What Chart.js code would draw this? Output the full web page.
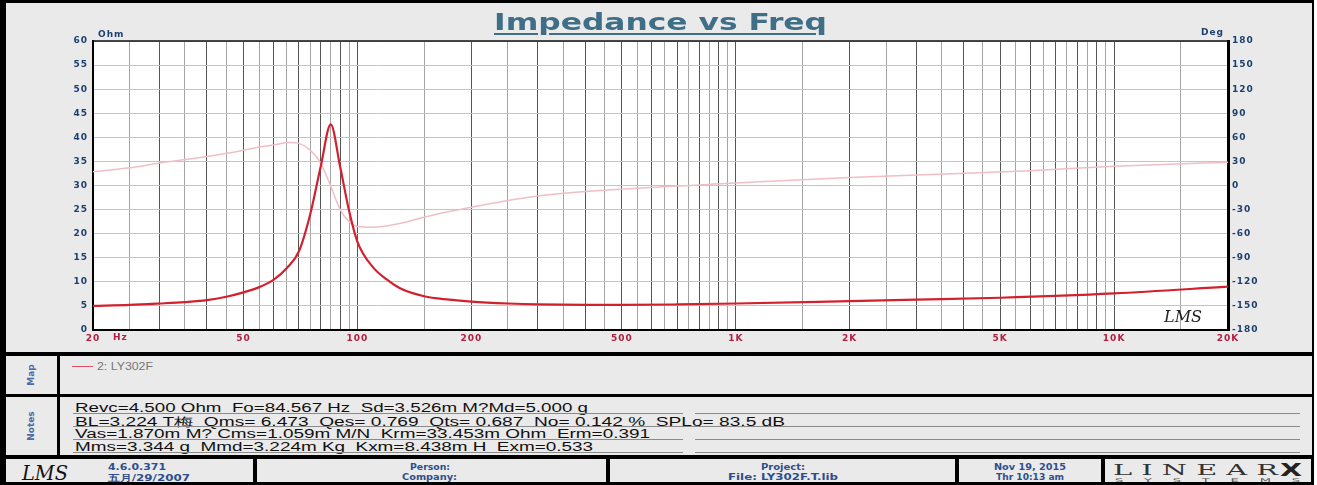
<!DOCTYPE html>
<html>
<head>
<meta charset="utf-8">
<script src="https://cdn.jsdelivr.net/npm/chart.js@4.4.1/dist/chart.umd.min.js"></script>
<style>
body { margin: 0; width: 1317px; height: 485px; background: #fff; overflow: hidden; font-family: "Liberation Sans", Arial, sans-serif; }
#page { position: absolute; left: 0; top: 0; width: 1314px; height: 485px; background: #000; }
.panel { position: absolute; background: #eaeaea; }
#grafico { position: absolute; left: 0; top: 0; }
.fit { position: absolute; white-space: pre; transform-origin: 0 0; line-height: 1; }
.titulo { font: bold 23px "DejaVu Sans", sans-serif; color: #3e6f87; text-decoration: underline; text-decoration-thickness: 2px; text-underline-offset: 3px; }
.nota { font: 12px "Liberation Sans", Arial, sans-serif; color: #111; }
.regla { position: absolute; height: 1px; background: #8a8a8a; }
.pie { font: bold 9px "DejaVu Sans", sans-serif; color: #2d4f8e; }
.vertical { position: absolute; font: bold 9px "DejaVu Sans", sans-serif; color: #4a6aa8; transform: rotate(-90deg); transform-origin: center; width: 40px; text-align: center; }
</style>
</head>
<body>
<div id="page">
  <!-- paneles -->
  <div class="panel" style="left:6px; top:3px; width:1306px; height:349px;"></div>
  <div class="panel" style="left:6px; top:356px; width:51px; height:38px;"></div>
  <div class="panel" style="left:60px; top:356px; width:1252px; height:38px;"></div>
  <div class="panel" style="left:6px; top:397px; width:51px; height:58px;"></div>
  <div class="panel" style="left:60px; top:397px; width:1252px; height:58px;"></div>
  <div class="panel" style="left:6px; top:459px; width:247px; height:23px;"></div>
  <div class="panel" style="left:257px; top:459px; width:349px; height:23px;"></div>
  <div class="panel" style="left:610px; top:459px; width:345px; height:23px;"></div>
  <div class="panel" style="left:959px; top:459px; width:142px; height:23px;"></div>
  <div class="panel" style="left:1105px; top:459px; width:206px; height:23px;"></div>
</div>

<canvas id="grafico" width="1317" height="355"></canvas>

<div class="fit titulo" style="left:494px; top:9px;" data-w="333">Impedance vs Freq</div>

<!-- leyenda -->
<div class="vertical" style="left:11px; top:370px;">Map</div>
<div style="position:absolute; left:72px; top:366px; width:21px; height:1px; background:#e0505e;"></div>
<div class="fit" style="left:97px; top:361px; font:10px 'Liberation Sans', Arial; color:#777;" data-w="56">2: LY302F</div>

<!-- notas -->
<div class="vertical" style="left:11px; top:421px;">Notes</div>
<div class="fit nota" style="left:75px; top:401px;" data-w="513">Revc=4.500 Ohm  Fo=84.567 Hz  Sd=3.526m M?Md=5.000 g</div>
<div class="fit nota" style="left:75px; top:414px;" data-w="710">BL=3.224 T梅  Qms= 6.473  Qes= 0.769  Qts= 0.687  No= 0.142 %  SPLo= 83.5 dB</div>
<div class="fit nota" style="left:75px; top:427px;" data-w="575">Vas=1.870m M? Cms=1.059m M/N  Krm=33.453m Ohm  Erm=0.391</div>
<div class="fit nota" style="left:75px; top:440px;" data-w="518">Mms=3.344 g  Mmd=3.224m Kg  Kxm=8.438m H  Exm=0.533</div>
<div class="regla" style="left:73px; top:413px; width:610px;"></div>
<div class="regla" style="left:695px; top:413px; width:605px;"></div>
<div class="regla" style="left:73px; top:426px; width:1227px;"></div>
<div class="regla" style="left:73px; top:439px; width:610px;"></div>
<div class="regla" style="left:695px; top:439px; width:605px;"></div>
<div class="regla" style="left:73px; top:452px; width:610px;"></div>
<div class="regla" style="left:695px; top:452px; width:605px;"></div>

<!-- pie -->
<div class="fit" style="left:22px; top:461px; font:italic 20px 'DejaVu Serif', serif; color:#111;" data-w="46">LMS</div>
<div class="fit pie" style="left:108px; top:462px;" data-w="58">4.6.0.371</div>
<div class="fit pie" style="left:108px; top:472px;" data-w="82">五月/29/2007</div>
<div class="fit pie" style="left:410px; top:462px;" data-w="40">Person:</div>
<div class="fit pie" style="left:402px; top:472px;" data-w="55">Company:</div>
<div class="fit pie" style="left:761px; top:462px;" data-w="44">Project:</div>
<div class="fit pie" style="left:728px; top:472px;" data-w="110">File: LY302F.T.lib</div>
<div class="fit pie" style="left:994px; top:462px;" data-w="72">Nov 19, 2015</div>
<div class="fit pie" style="left:996px; top:472px;" data-w="68">Thr 10:13 am</div>
<div class="fit" style="left:1113px; top:461px; font:15px 'DejaVu Serif', serif; color:#333;" data-w="165">L I N E A R</div>
<div class="fit" style="left:1280px; top:460px; font:bold 17px 'DejaVu Sans', sans-serif; color:#222;" data-w="22">X</div>
<div class="fit" style="left:1115px; top:477px; font:5px 'DejaVu Sans', sans-serif; color:#555;" data-w="185">S     Y     S     T     E     M     S</div>

<script>
// Curva de impedancia (Hz, Ohm)
const impFreq = [20, 25, 30, 35, 40, 45, 50, 55, 60, 65, 70, 75, 80, 85, 90, 95, 100, 110, 120, 130, 150, 175, 200, 250, 300, 400, 500, 700, 1000, 2000, 3000, 5000, 10000, 20000];
const impOhm  = [5.0, 5.2, 5.5, 5.8, 6.2, 6.9, 7.8, 8.9, 10.4, 12.8, 16.3, 24.0, 34.0, 42.7, 33.9, 24.8, 18.3, 13.0, 10.4, 8.6, 7.0, 6.3, 5.9, 5.5, 5.3, 5.2, 5.2, 5.3, 5.5, 6.0, 6.3, 6.7, 7.6, 9.0];

// Curva de fase (Hz, grados)
const faseFreq = [20, 25, 30, 40, 50, 55, 60, 66, 70, 75, 80, 85, 90, 95, 100, 110, 130, 150, 175, 200, 300, 500, 1000, 2000, 3000, 6000, 10000, 20000];
const faseDeg  = [17, 22, 28, 36, 44, 48, 50.5, 53.5, 52.5, 44, 28, -1, -30, -45, -51, -52, -47, -39.5, -32.5, -27, -13, -4.5, 3, 10, 13, 18.5, 24, 29];

// Etiquetas de los ejes
const xEtiquetasValor = [20, 50, 100, 200, 500, 1000, 2000, 5000, 10000, 20000];
const xEtiquetasTexto = ['20', '50', '100', '200', '500', '1K', '2K', '5K', '10K', '20K'];
const ohmEtiquetas = [0, 5, 10, 15, 20, 25, 30, 35, 40, 45, 50, 55, 60];
const degEtiquetas = [-180, -150, -120, -90, -60, -30, 0, 30, 60, 90, 120, 150, 180];

// Lineas verticales de la rejilla logaritmica
const xRejilla = [];
for (let f = 20; f < 100; f += 5) xRejilla.push(f);
for (let f = 100; f < 1000; f += 50) xRejilla.push(f);
for (let f = 1000; f < 10000; f += 500) xRejilla.push(f);
xRejilla.push(10000, 15000, 20000);

// Lineas horizontales (cada media division)
const ohmRejilla = [];
for (let v = 0; v <= 60; v += 2.5) ohmRejilla.push(v);
const degRejilla = [];
for (let v = -180; v <= 180; v += 15) degRejilla.push(v);

// Ajustar ancho de los textos HTML
document.querySelectorAll('[data-w]').forEach(function (el) {
  const ancho = el.getBoundingClientRect().width;
  el.style.transform = 'scaleX(' + (parseFloat(el.dataset.w) / ancho) + ')';
});

function colorVertical(f) {
  const paso = f < 100 ? 10 : f < 1000 ? 100 : f < 10000 ? 1000 : 10000;
  return f % paso === 0 ? '#555' : '#a4a4a4';
}

const fuenteEje = { family: 'DejaVu Sans', size: 9, weight: 'bold' };

// Fondo blanco, borde superior y textos sueltos
const extras = {
  id: 'extras',
  beforeDraw(chart) {
    const ctx = chart.ctx, a = chart.chartArea;
    ctx.save();
    ctx.fillStyle = '#fff';
    ctx.fillRect(a.left, a.top, a.right - a.left, a.bottom - a.top);
    ctx.restore();
    // numeros de los ejes un poco mas anchos
    ctx.letterSpacing = '1px';
  },
  afterDraw(chart) {
    const ctx = chart.ctx, a = chart.chartArea;
    ctx.save();
    ctx.strokeStyle = '#111';
    ctx.lineWidth = 1.5;
    ctx.beginPath();
    ctx.moveTo(a.left, a.top);
    ctx.lineTo(a.right, a.top);
    ctx.stroke();

    ctx.font = 'bold 9px "DejaVu Sans"';
    ctx.fillStyle = '#1d3f6e';
    ctx.textBaseline = 'middle';
    ctx.textAlign = 'left';
    ctx.fillText('Ohm', a.left + 5, a.top - 6);
    ctx.textAlign = 'right';
    ctx.fillText('Deg', a.right - 4, a.top - 8);
    ctx.fillStyle = '#b02040';
    ctx.textAlign = 'left';
    ctx.fillText('Hz', a.left + 20, a.bottom + 8);

    // firma LMS
    ctx.letterSpacing = '0px';
    ctx.font = 'italic 16px "DejaVu Serif"';
    ctx.fillStyle = '#222';
    ctx.fillText('LMS', a.right - 64, a.bottom - 12);
    ctx.restore();
  }
};

const contexto = document.getElementById('grafico').getContext('2d');

const grafico = new Chart(contexto, {
  type: 'line',
  data: {
    datasets: [{
      label: '2: LY302F',
      data: impFreq.map(function (f, i) { return { x: f, y: impOhm[i] }; }),
      borderColor: '#d3202e',
      borderWidth: 2.2,
      pointRadius: 0,
      cubicInterpolationMode: 'monotone',
      yAxisID: 'y'
    }, {
      label: 'Fase',
      data: faseFreq.map(function (f, i) { return { x: f, y: faseDeg[i] }; }),
      borderColor: '#f0bec6',
      borderWidth: 1.5,
      pointRadius: 0,
      cubicInterpolationMode: 'monotone',
      yAxisID: 'y2'
    }]
  },
  options: {
    responsive: false,
    animation: false,
    layout: { padding: { left: 0, right: 0, top: 41, bottom: 0 } },
    plugins: { legend: { display: false }, tooltip: { enabled: false } },
    scales: {
      x: {
        type: 'logarithmic',
        min: 20,
        max: 20000,
        afterBuildTicks: function (s) { s.ticks = xRejilla.map(function (v) { return { value: v }; }); },
        afterFit: function (s) { s.height = 25; },
        ticks: {
          autoSkip: false,
          maxRotation: 0,
          padding: 3,
          color: '#b02040',
          font: fuenteEje,
          callback: function (v) {
            const i = xEtiquetasValor.indexOf(v);
            return i >= 0 ? xEtiquetasTexto[i] : '';
          }
        },
        grid: {
          drawTicks: false,
          color: function (c) { return c.tick ? colorVertical(c.tick.value) : '#999'; },
          lineWidth: 1
        },
        border: { color: '#000', width: 2 }
      },
      y: {
        position: 'left',
        min: 0,
        max: 60,
        afterBuildTicks: function (s) { s.ticks = ohmRejilla.map(function (v) { return { value: v }; }); },
        afterFit: function (s) { s.width = 93; },
        ticks: {
          padding: 5,
          color: '#1d3f6e',
          font: fuenteEje,
          callback: function (v) { return ohmEtiquetas.indexOf(v) >= 0 ? String(v) : ''; }
        },
        grid: { drawTicks: false, color: '#c4c4c4', lineWidth: 1 },
        border: { color: '#000', width: 2 }
      },
      y2: {
        position: 'right',
        min: -180,
        max: 180,
        afterBuildTicks: function (s) { s.ticks = degRejilla.map(function (v) { return { value: v }; }); },
        afterFit: function (s) { s.width = 89; },
        ticks: {
          padding: 4,
          color: '#1d3f6e',
          font: fuenteEje,
          callback: function (v) { return degEtiquetas.indexOf(v) >= 0 ? String(v) : ''; }
        },
        grid: { drawTicks: false, drawOnChartArea: false },
        border: { color: '#000', width: 3 }
      }
    }
  },
  plugins: [extras]
});
</script>
</body>
</html>
